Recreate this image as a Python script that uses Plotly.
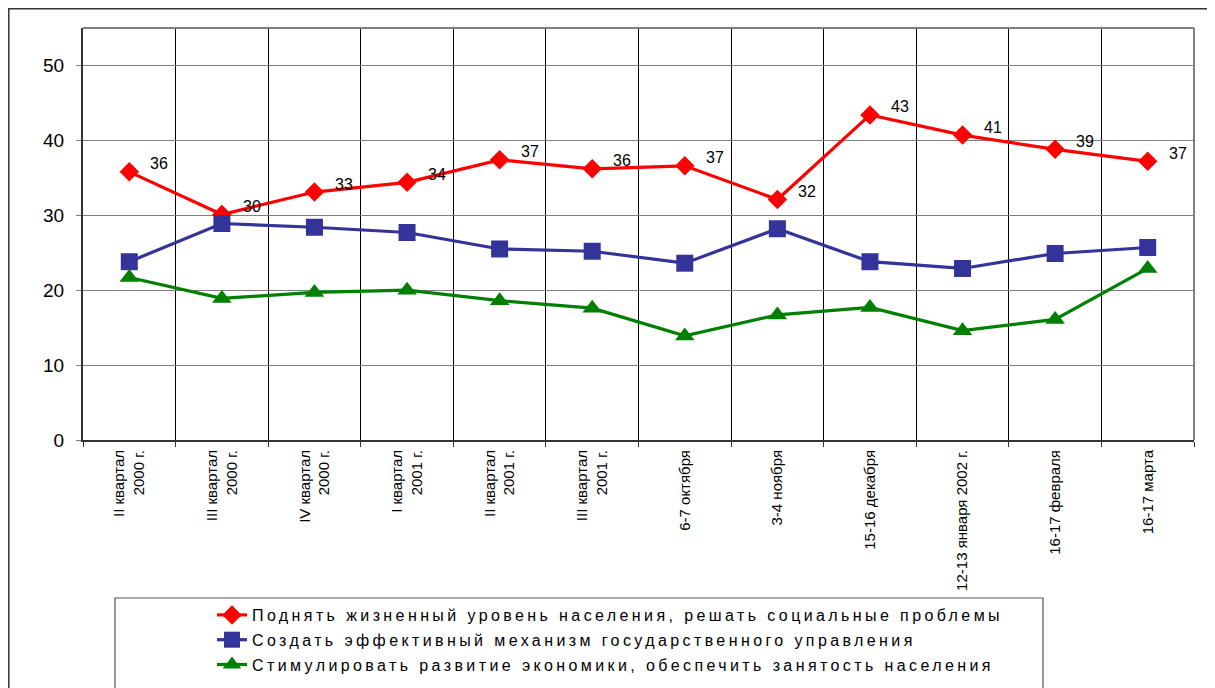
import plotly.graph_objects as go

categories = [
    "II квартал<br>2000 г.", "III квартал<br>2000 г.", "IV квартал<br>2000 г.",
    "I квартал<br>2001 г.", "II квартал<br>2001 г.", "III квартал<br>2001 г.",
    "6-7 октября", "3-4 ноября", "15-16 декабря", "12-13 января 2002 г.",
    "16-17 февраля", "16-17 марта",
]
series_names = [
    "Поднять жизненный уровень населения, решать социальные проблемы",
    "Создать эффективный механизм государственного управления",
    "Стимулировать развитие экономики, обеспечить занятость населения",
]
living = [35.8, 30.1, 33.1, 34.4, 37.4, 36.2, 36.6, 32.1, 43.4, 40.7, 38.8, 37.2]
governance = [23.8, 28.9, 28.4, 27.7, 25.5, 25.2, 23.6, 28.2, 23.8, 22.9, 24.9, 25.7]
economy = [21.7, 18.9, 19.7, 20.0, 18.6, 17.6, 13.9, 16.7, 17.7, 14.6, 16.1, 22.9]
y_ticks = [0, 10, 20, 30, 40, 50]

FONT = "Liberation Sans, Arial, sans-serif"
x_pos = [i + 0.5 for i in range(len(categories))]

colors = ["#FF0000", "#333399", "#008000"]
symbols = ["diamond", "square", "triangle-up"]
sizes = [15, 17, 17]
values = [living, governance, economy]

fig = go.Figure()
for i, (name, vals) in enumerate(zip(series_names, values)):
    fig.add_trace(go.Scatter(
        x=x_pos, y=vals, mode="lines+markers",
        name='<span style="letter-spacing:3.4px">' + name + "</span>",
        legendgroup=f"g{i}",
        line=dict(color=colors[i], width=3.2),
        marker=dict(symbol=symbols[i], size=sizes[i], color=colors[i],
                    line=dict(width=0)),
        cliponaxis=False,
    ))

annotations = []
for xp, v in zip(x_pos, living):
    annotations.append(dict(
        x=xp, y=v, xref="x", yref="y", text=str(int(round(v))),
        showarrow=False, xshift=30, yshift=8,
        font=dict(family=FONT, size=16, color="#000000"),
    ))

# page px -> paper coords (page has an 8px body offset, compensated in size/margins)
def px(p):
    return (p - 83) / 1111


def py(p):
    return (440 - p) / 412


shapes = [
    # outer frame
    dict(type="rect", xref="paper", yref="paper",
         x0=px(8.8), x1=1.2, y0=-1.0, y1=py(8.8),
         line=dict(color="#333333", width=1.5), fillcolor="rgba(0,0,0,0)"),
    # legend box
    dict(type="rect", xref="paper", yref="paper",
         x0=px(115), x1=px(1043), y0=py(700), y1=py(598),
         line=dict(color="#555555", width=1.2), fillcolor="rgba(0,0,0,0)"),
    # top and right plot border
    dict(type="line", xref="paper", yref="paper", x0=0, x1=1, y0=1, y1=1,
         line=dict(color="#808080", width=2)),
    dict(type="line", xref="paper", yref="paper", x0=1, x1=1, y0=0, y1=1,
         line=dict(color="#808080", width=2)),
]

fig.update_layout(
    width=1207, height=680,
    margin=dict(l=75, r=21, t=20, b=248, autoexpand=False),
    paper_bgcolor="white", plot_bgcolor="white",
    font=dict(family=FONT, color="#000000"),
    showlegend=True,
    legend=dict(
        x=px(212), y=py(598), xanchor="left", yanchor="top",
        bgcolor="rgba(0,0,0,0)", borderwidth=0,
        font=dict(family=FONT, size=16, color="#000000"),
        traceorder="grouped", tracegroupgap=1,
    ),
    annotations=annotations,
    shapes=shapes,
)

fig.update_xaxes(
    range=[0, 12], tickmode="array", tickvals=x_pos, ticktext=categories,
    tickangle=-90, ticks="", showgrid=False, zeroline=False,
    showline=True, linecolor="#333333", linewidth=2,
    tickfont=dict(family=FONT, size=15, color="#000000"),
    ticklabelstandoff=2,
    minor=dict(tickmode="array", tickvals=list(range(13)), showgrid=True,
               gridcolor="#000000", gridwidth=1, ticks="outside", ticklen=5,
               tickcolor="#333333", tickwidth=1),
)
fig.update_yaxes(
    range=[0, 55], tickmode="array", tickvals=y_ticks,
    showgrid=True, gridcolor="#808080", gridwidth=1, zeroline=False,
    showline=True, linecolor="#333333", linewidth=2,
    ticks="outside", ticklen=5, tickcolor="#808080",
    tickfont=dict(family=FONT, size=19, color="#000000"),
    ticklabelstandoff=8,
)

fig.write_html("out.html")
